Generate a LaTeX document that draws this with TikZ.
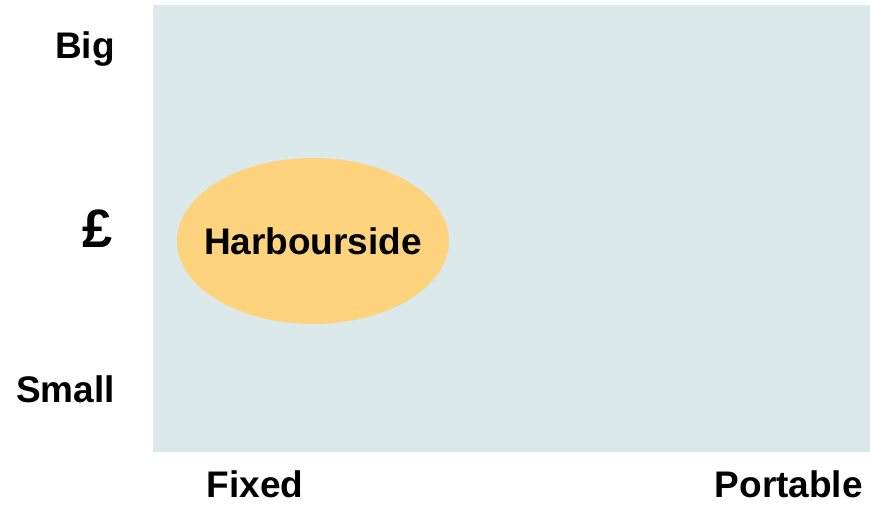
\documentclass[tikz,border=0pt]{standalone}
\usepackage{fontspec}
\setmainfont{Liberation Sans}
\usetikzlibrary{shapes.geometric,positioning}
\definecolor{panelblue}{RGB}{220,233,235}
\definecolor{blobgold}{RGB}{253,211,125}
\tikzset{axis label/.style={rectangle,draw=none,fill=none,inner sep=0pt,font=\fontsize{37}{40}\selectfont\bfseries},
         blob/.style={ellipse,fill=blobgold,draw=none,minimum width=272pt,minimum height=166pt,inner sep=0pt}
}

\begin{document}
\begin{tikzpicture}[x=1pt,y=1pt]

\useasboundingbox (0,0) rectangle (870,504);
\fill[panelblue] (153,52) rectangle (870,499);

\node [blob] (harbour) at (313,263) {};
\node [axis label] (harbourtext) at (harbour.center) {Harbourside};

\node [axis label,anchor=base east] (big) at (115,445) {Big};
\node [axis label,anchor=base east,font=\fontsize{54}{58}\selectfont\bfseries] (pound) at (113,256) {£};
\node [axis label,anchor=base east] (small) at (115,102) {Small};

\node [axis label,anchor=base] (fixed) at (255,7) {Fixed};
\node [axis label,anchor=base east] (portable) at (863,7) {Portable};
\end{tikzpicture}
\end{document}
